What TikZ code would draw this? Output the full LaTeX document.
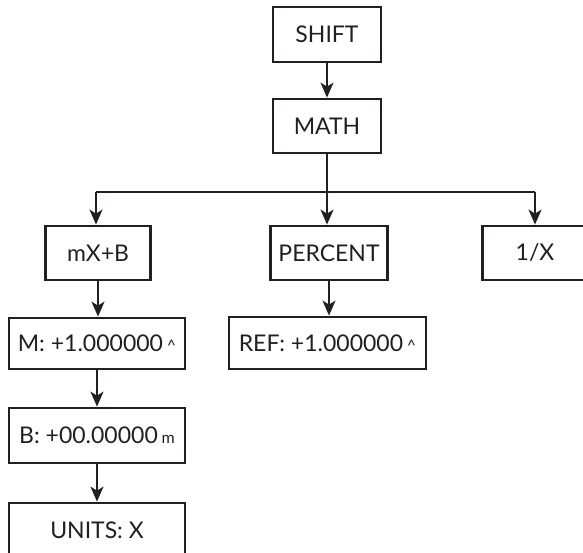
\documentclass[tikz,border=0pt]{standalone}
\usepackage{fontspec}
\setmainfont{Lato}
\usetikzlibrary{arrows.meta}
\definecolor{ink}{HTML}{231F20}
\tikzset{
  box/.style={draw=ink, line width=2.8pt, rectangle, inner sep=0pt, align=center,
    text=ink, font=\fontsize{23}{27}\selectfont},
  conn/.style={draw=ink, line width=1.7pt},
  arr/.style={conn, -{Stealth[length=15pt,width=13pt,inset=4pt]}},
}
\newcommand{\smallsfx}[1]{{\fontsize{16}{16}\selectfont #1}}
\begin{document}
\begin{tikzpicture}[x=1pt,y=-1pt]
\useasboundingbox (0,0) rectangle (583,553);
\clip (0,0) rectangle (583,553);
\node[box, minimum width=108pt, minimum height=55pt] (shift) at (327,34.5) {SHIFT};
\node[box, minimum width=108pt, minimum height=54pt] (math) at (327,126) {MATH};
\node[box, minimum width=105pt, minimum height=54pt] (mxb) at (98,253) {mX+B};
\node[box, minimum width=117pt, minimum height=54pt] (pct) at (329,253) {PERCENT};
\node[box, minimum width=105pt, minimum height=54pt] (inv) at (535,253) {1/X};
\node[box, minimum width=176pt, minimum height=51pt] (m) at (97,343.5) {M: +1.000000\,\smallsfx{\textasciicircum}};
\node[box, minimum width=197pt, minimum height=52pt] (ref) at (327.5,343) {REF: +1.000000\,\smallsfx{\textasciicircum}};
\node[box, minimum width=176pt, minimum height=55pt] (b) at (97,435.5) {B: +00.00000\,\smallsfx{m}};
\node[box, minimum width=176pt, minimum height=55pt] (units) at (97,530.5) {UNITS: X};
\coordinate (br) at (327,192);
\coordinate (bl) at (96,192);
\coordinate (brr) at (535,192);
\draw[arr] (shift.south) -- (math.north);
\draw[conn] (math.south) -- (br);
\draw[conn] (bl) -- (brr);
\draw[arr] (bl) -- (bl |- mxb.north);
\draw[arr] (br) -- (br |- pct.north);
\draw[arr] (brr) -- (brr |- inv.north);
\draw[arr] (mxb.south) -- (mxb.south |- m.north);
\draw[arr] (pct.south) -- (pct.south |- ref.north);
\draw[arr] (m.south) -- (m.south |- b.north);
\draw[arr] (b.south) -- (b.south |- units.north);
\end{tikzpicture}
\end{document}
